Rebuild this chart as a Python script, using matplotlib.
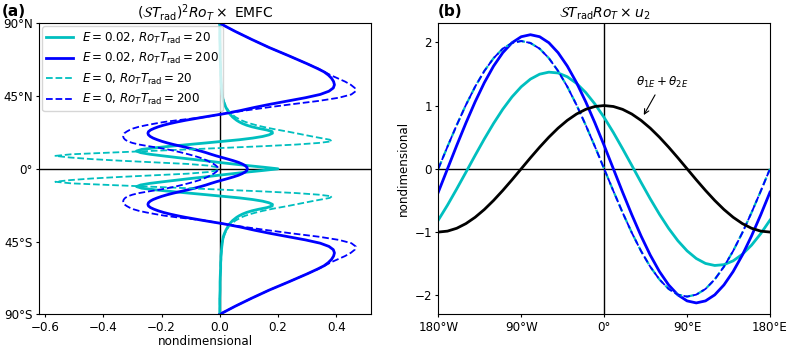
import numpy as np
import matplotlib
matplotlib.use("Agg")
import matplotlib.pyplot as plt

# ---------------- Panel (a): EMFC vs latitude (northern hemisphere, symmetric) ----------------
lat_n = [0, 1, 2, 3, 4, 5, 6, 7, 8, 9, 10, 11, 12, 13, 14, 15, 16, 17, 18, 19, 20,
         21, 22, 23, 24, 25, 26, 27, 28, 29, 30,
         32, 34, 36, 38, 40, 42, 44, 46, 48, 50, 52, 54, 56, 58, 60, 62,
         65, 70, 75, 80, 85, 90]

emfc_E002_R200 = [0.095, 0.093, 0.087, 0.077, 0.064, 0.047, 0.028, 0.008, -0.012, -0.030,
                  -0.047, -0.066, -0.087, -0.110, -0.134, -0.158, -0.180, -0.199, -0.215, -0.229,
                  -0.239, -0.245, -0.247, -0.245, -0.238, -0.226, -0.211, -0.193, -0.171, -0.146,
                  -0.118,
                  -0.055, 0.012, 0.070, 0.120, 0.175, 0.235, 0.295, 0.345, 0.375, 0.390,
                  0.394, 0.391, 0.384, 0.373, 0.358, 0.336,
                  0.300, 0.236, 0.170, 0.110, 0.053, 0.0]

emfc_E0_R200 = [-0.005, -0.007, -0.013, -0.021, -0.031, -0.042, -0.055, -0.070, -0.088, -0.108,
                -0.130, -0.153, -0.180, -0.210, -0.245, -0.277, -0.300, -0.316, -0.325, -0.330,
                -0.332, -0.331, -0.328, -0.320, -0.310, -0.297, -0.278, -0.252, -0.222, -0.190,
                -0.148,
                -0.050, 0.012, 0.085, 0.165, 0.250, 0.340, 0.410, 0.452, 0.467, 0.464,
                0.450, 0.430, 0.405, 0.380, 0.360, 0.338,
                0.300, 0.236, 0.170, 0.110, 0.053, 0.0]

emfc_E002_R20 = [0.200, 0.150, 0.095, 0.045, -0.005, -0.050, -0.100, -0.148, -0.195, -0.240,
                 -0.272, -0.286, -0.268, -0.222, -0.168, -0.108, -0.048, 0.010, 0.068, 0.113,
                 0.147, 0.169, 0.181, 0.180, 0.162, 0.134, 0.110, 0.092, 0.078, 0.067,
                 0.058,
                 0.044, 0.034, 0.027, 0.021, 0.016, 0.012, 0.010, 0.008, 0.007, 0.006,
                 0.005, 0.004, 0.004, 0.003, 0.003, 0.003,
                 0.002, 0.001, 0.001, 0.0, 0.0, 0.0]

emfc_E0_R20 = [-0.004, -0.010, -0.040, -0.110, -0.225, -0.340, -0.440, -0.515, -0.565, -0.510,
               -0.380, -0.245, -0.110, 0.020, 0.150, 0.262, 0.340, 0.385, 0.378, 0.348,
               0.318, 0.290, 0.262, 0.234, 0.203, 0.174, 0.148, 0.125, 0.105, 0.088,
               0.074,
               0.054, 0.040, 0.030, 0.023, 0.018, 0.014, 0.011, 0.009, 0.008, 0.007,
               0.006, 0.005, 0.004, 0.004, 0.003, 0.003,
               0.002, 0.001, 0.001, 0.0, 0.0, 0.0]

lat_ticks = [-90, -45, 0, 45, 90]
lat_ticklabels = ["90°S", "45°S", "0°", "45°N", "90°N"]
emfc_ticks = [-0.6, -0.4, -0.2, 0.0, 0.2, 0.4]

# ---------------- Panel (b): u2 vs longitude ----------------
lon = [-180, -170, -160, -150, -140, -130, -120, -110, -100, -90, -80, -70, -60, -50, -40,
       -30, -20, -10, 0, 10, 20, 30, 40, 50, 60, 70, 80, 90, 100, 110, 120, 130, 140,
       150, 160, 170, 180]

theta_sum = [-1.0, -0.985, -0.940, -0.866, -0.766, -0.643, -0.5, -0.342, -0.174, 0.0,
             0.174, 0.342, 0.5, 0.643, 0.766, 0.866, 0.940, 0.985, 1.0, 0.985, 0.940,
             0.866, 0.766, 0.643, 0.5, 0.342, 0.174, 0.0, -0.174, -0.342, -0.5, -0.643,
             -0.766, -0.866, -0.940, -0.985, -1.0]

u2_E002_R20 = [-0.811, -0.574, -0.318, -0.054, 0.213, 0.473, 0.718, 0.942, 1.137, 1.297,
               1.418, 1.496, 1.528, 1.515, 1.455, 1.351, 1.206, 1.024, 0.811, 0.574,
               0.318, 0.054, -0.213, -0.473, -0.718, -0.942, -1.137, -1.297, -1.418,
               -1.496, -1.528, -1.515, -1.455, -1.351, -1.206, -1.024, -0.811]

u2_E002_R200 = [-0.369, 0.0, 0.369, 0.725, 1.060, 1.363, 1.624, 1.836, 1.993, 2.088,
                2.120, 2.088, 1.993, 1.836, 1.624, 1.363, 1.060, 0.725, 0.369, 0.0,
                -0.369, -0.725, -1.060, -1.363, -1.624, -1.836, -1.993, -2.088, -2.120,
                -2.088, -1.993, -1.836, -1.624, -1.363, -1.060, -0.725, -0.369]

u2_E0 = [0.0, 0.351, 0.691, 1.010, 1.299, 1.547, 1.749, 1.899, 1.989, 2.020, 1.989,
         1.899, 1.749, 1.547, 1.299, 1.010, 0.691, 0.351, 0.0, -0.351, -0.691, -1.010,
         -1.299, -1.547, -1.749, -1.899, -1.989, -2.020, -1.989, -1.899, -1.749, -1.547,
         -1.299, -1.010, -0.691, -0.351, 0.0]

lon_ticks = [-180, -90, 0, 90, 180]
lon_ticklabels = ["180°W", "90°W", "0°", "90°E", "180°E"]
u_ticks = [-2, -1, 0, 1, 2]

labels = [r"$E=0.02$, $Ro_T T_{\rm rad}=20$",
          r"$E=0.02$, $Ro_T T_{\rm rad}=200$",
          r"$E=0$, $Ro_T T_{\rm rad}=20$",
          r"$E=0$, $Ro_T T_{\rm rad}=200$"]

# ---------------- Figure ----------------
plt.rcParams['font.family'] = ['DejaVu Sans']
plt.rcParams['xtick.major.size'] = 2.5
plt.rcParams['ytick.major.size'] = 2.5
plt.rcParams['xtick.major.pad'] = 2.0
plt.rcParams['ytick.major.pad'] = 2.0
FS = 8.6

fig = plt.figure(figsize=(7.93, 3.49), dpi=100)
axa = fig.add_axes([0.0496, 0.0994, 0.4184, 0.8338])
axb = fig.add_axes([0.5527, 0.0994, 0.4183, 0.8338])


def sym(v):
    v = np.asarray(v, dtype=float)
    return np.concatenate([v[:0:-1], v])


lat_full = np.concatenate([-np.asarray(lat_n[:0:-1], float), np.asarray(lat_n, float)])

cyan = 'c'
blue = 'b'

axa.axvline(0, color='k', lw=1.0, zorder=1)
axa.axhline(0, color='k', lw=1.0, zorder=1)
axa.plot(sym(emfc_E002_R20), lat_full, color=cyan, lw=2.0, label=labels[0])
axa.plot(sym(emfc_E002_R200), lat_full, color=blue, lw=2.0, label=labels[1])
axa.plot(sym(emfc_E0_R20), lat_full, color=cyan, lw=1.3, ls='--', label=labels[2])
axa.plot(sym(emfc_E0_R200), lat_full, color=blue, lw=1.3, ls='--', label=labels[3])
axa.set_xlim(-0.62, 0.52)
axa.set_ylim(-90, 90)
axa.set_yticks(lat_ticks)
axa.set_yticklabels(lat_ticklabels, fontsize=FS)
axa.set_xticks(emfc_ticks)
axa.tick_params(axis='x', labelsize=FS)
axa.set_xlabel("nondimensional", fontsize=FS, labelpad=1)
axa.set_title(r"$(\mathcal{S}T_{\rm rad})^2Ro_T\times$ EMFC", fontsize=10, pad=4)
axa.legend(loc='upper left', fontsize=FS, handlelength=2.2, borderaxespad=0.25,
           labelspacing=0.45, borderpad=0.35, framealpha=0.8)
fig.text(2 / 793, 1 - 11.5 / 349, "(a)", fontsize=11, fontweight='bold', va='center', ha='left')

axb.axvline(0, color='k', lw=1.0, zorder=1)
axb.axhline(0, color='k', lw=1.0, zorder=1)
axb.plot(lon, u2_E002_R20, color=cyan, lw=2.0)
axb.plot(lon, u2_E002_R200, color=blue, lw=2.0)
axb.plot(lon, u2_E0, color=cyan, lw=1.6, ls='--')
axb.plot(lon, u2_E0, color=blue, lw=1.3, ls='--')
axb.plot(lon, theta_sum, color='k', lw=2.0)
axb.set_xlim(-180, 180)
axb.set_ylim(-2.3, 2.3)
axb.set_xticks(lon_ticks)
axb.set_xticklabels(lon_ticklabels, fontsize=FS)
axb.set_yticks(u_ticks)
axb.tick_params(axis='y', labelsize=FS)
axb.set_ylabel("nondimensional", fontsize=FS, labelpad=3)
axb.set_title(r"$\mathcal{S}T_{\rm rad}Ro_T\times u_2$", fontsize=10, pad=4)
axb.annotate(r"$\theta_{1E}+\theta_{2E}$", xy=(43, 0.85), xytext=(63, 1.37),
             ha='center', va='center', fontsize=FS,
             arrowprops=dict(arrowstyle='->', color='k', lw=0.8, shrinkA=2, shrinkB=0))
fig.text(438 / 793, 1 - 11.5 / 349, "(b)", fontsize=11, fontweight='bold', va='center', ha='left')

fig.savefig("out.png", dpi=100)
